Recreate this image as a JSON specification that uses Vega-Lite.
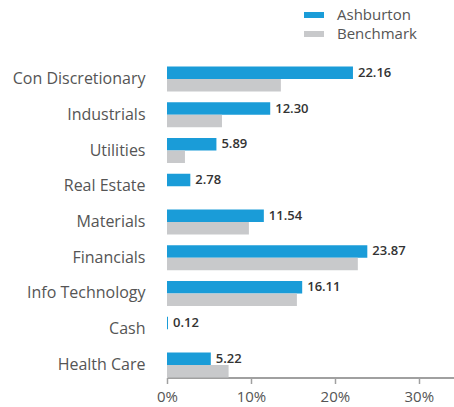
{
  "$schema": "https://vega.github.io/schema/vega-lite/v6.json",
  "autosize": {"type": "none"},
  "width": 287,
  "height": 311,
  "padding": {"left": 167, "top": 66.5, "right": 0, "bottom": 29.5},
  "background": "white",
  "config": {"view": {"stroke": null}, "font": "Open Sans"},
  "data": {
    "values": [
      {"sector": "Con Discretionary", "series": "Ashburton", "value": 22.16},
      {"sector": "Con Discretionary", "series": "Benchmark", "value": 13.57},
      {"sector": "Industrials", "series": "Ashburton", "value": 12.30},
      {"sector": "Industrials", "series": "Benchmark", "value": 6.55},
      {"sector": "Utilities", "series": "Ashburton", "value": 5.89},
      {"sector": "Utilities", "series": "Benchmark", "value": 2.14},
      {"sector": "Real Estate", "series": "Ashburton", "value": 2.78},
      {"sector": "Real Estate", "series": "Benchmark", "value": 0},
      {"sector": "Materials", "series": "Ashburton", "value": 11.54},
      {"sector": "Materials", "series": "Benchmark", "value": 9.76},
      {"sector": "Financials", "series": "Ashburton", "value": 23.87},
      {"sector": "Financials", "series": "Benchmark", "value": 22.74},
      {"sector": "Info Technology", "series": "Ashburton", "value": 16.11},
      {"sector": "Info Technology", "series": "Benchmark", "value": 15.48},
      {"sector": "Cash", "series": "Ashburton", "value": 0.12},
      {"sector": "Cash", "series": "Benchmark", "value": 0},
      {"sector": "Health Care", "series": "Ashburton", "value": 5.22},
      {"sector": "Health Care", "series": "Benchmark", "value": 7.34}
    ]
  },
  "encoding": {
    "y": {
      "field": "sector", "type": "nominal", "sort": null,
      "scale": {"paddingInner": 0.3, "paddingOuter": 0},
      "axis": {"title": null, "ticks": false, "domain": false, "labelFontSize": 16, "labelColor": "#555555", "labelPadding": 22}
    },
    "yOffset": {"field": "series", "type": "nominal", "scale": {"paddingInner": 0, "paddingOuter": 0}},
    "x": {
      "field": "value", "type": "quantitative",
      "scale": {"domain": [0, 34.2], "nice": false},
      "axis": {"title": null, "grid": false, "values": [0, 10, 20, 30], "labelExpr": "datum.value + '%'", "domainColor": "#a0a0a0", "domainWidth": 2, "tickColor": "#a0a0a0", "tickSize": 6, "tickWidth": 1.5, "labelFontSize": 15, "labelColor": "#555555", "labelPadding": 6, "labelFlush": false}
    }
  },
  "layer": [
    {
      "mark": {"type": "bar"},
      "encoding": {
        "color": {
          "field": "series", "type": "nominal",
          "scale": {"domain": ["Ashburton", "Benchmark"], "range": ["#1a9cd8", "#c8c9cb"]},
          "legend": {"title": null, "orient": "none", "legendX": 137, "legendY": -61.5, "symbolType": "M-1,-0.3L1,-0.3L1,0.3L-1,0.3Z", "symbolSize": 400, "symbolStrokeWidth": 0, "labelFontSize": 15, "labelColor": "#555555", "labelOffset": 13, "rowPadding": 1}
        }
      }
    },
    {
      "transform": [{"filter": "datum.series == 'Ashburton'"}],
      "mark": {"type": "text", "align": "left", "baseline": "middle", "dx": 5, "fontSize": 13, "fontWeight": 600, "color": "#333333"},
      "encoding": {"text": {"field": "value", "type": "quantitative", "format": ".2f"}}
    }
  ]
}
